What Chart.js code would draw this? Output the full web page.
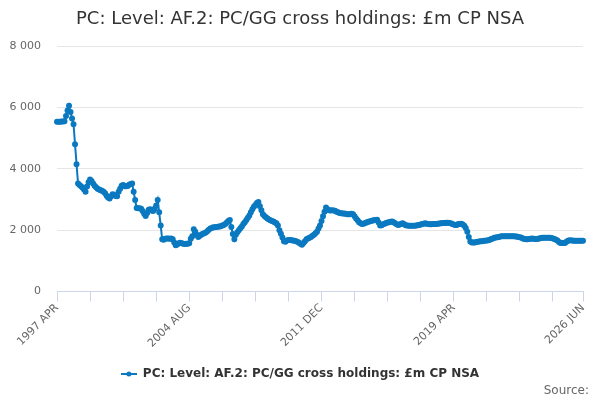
<!DOCTYPE html>
<html>
<head>
<meta charset="utf-8">
<script src="https://cdn.jsdelivr.net/npm/chart.js@4"></script>
<style>
  html, body { margin: 0; padding: 0; background: #fff; }
  #wrap { width: 600px; height: 400px; position: relative; }
</style>
</head>
<body>
<div id="wrap"><canvas id="chart" width="600" height="400"></canvas></div>
<script>
// judul & seri
const chartTitle = "PC: Level: AF.2: PC/GG cross holdings: £m CP NSA";
const seriesName = "PC: Level: AF.2: PC/GG cross holdings: £m CP NSA";
const sourceText = "Source:";

// bulanan, mulai 1997 APR
const startYear = 1997;
const startMonth = 3; // APR (0 = JAN)
const monthNames = ['JAN','FEB','MAR','APR','MAY','JUN','JUL','AUG','SEP','OCT','NOV','DEC'];

// label sumbu x yang tampil (posisi indeks bulan)
const tickLabelIdx = [0, 88, 176, 264, 350];
const tickLabels = ['1997 APR', '2004 AUG', '2011 DEC', '2019 APR', '2026 JUN'];
const minorTickStep = 22;

const yTicks = [0, 2000, 4000, 6000, 8000];

// nilai £m per bulan
const values1997_2000 = [
  5530, 5530, 5530, 5540, 5540, 5550, 5720, 5900, 6050, 5850, 5640, 5450, 4800, 4150, 3520,
  3470, 3430, 3380, 3320, 3250, 3420, 3560, 3650, 3600, 3520, 3450, 3400, 3350, 3320, 3300,
  3280, 3250, 3200, 3120, 3060, 3030, 3100, 3170, 3150, 3110, 3100, 3250, 3350, 3450, 3470
];
const values2001_2004 = [
  3430, 3430, 3440, 3480, 3500, 3520, 3250, 2980, 2720, 2710, 2710, 2700, 2620, 2530, 2460,
  2560, 2660, 2680, 2640, 2620, 2700, 2800, 2980, 2580, 2150, 1700, 1690, 1720, 1730, 1730,
  1720, 1730, 1700, 1600, 1510, 1530, 1570, 1590, 1570, 1560, 1550, 1560, 1560, 1570
];
const values2004_2008 = [
  1720, 1800, 2030, 1950, 1850, 1780, 1820, 1850, 1880, 1900, 1920, 1960, 2010, 2050, 2070,
  2090, 2090, 2100, 2110, 2120, 2130, 2150, 2170, 2200, 2250, 2300, 2330, 2100, 1870, 1700,
  1850, 1930, 2000, 2060, 2120, 2200, 2260, 2330, 2400, 2480, 2580, 2680, 2760, 2820, 2880,
  2920
];
const values2008_2012 = [
  2780, 2650, 2520, 2460, 2420, 2380, 2350, 2320, 2300, 2280, 2250, 2220, 2150, 2000, 1880,
  1760, 1640, 1620, 1660, 1680, 1680, 1670, 1660, 1650, 1640, 1620, 1590, 1560, 1520, 1580,
  1640, 1700, 1730, 1750, 1780, 1820, 1850, 1900, 1950, 2050, 2150, 2300, 2450, 2600, 2740
];
const values2012_2016 = [
  2680, 2650, 2640, 2650, 2640, 2630, 2600, 2580, 2560, 2550, 2540, 2540, 2530, 2520, 2520,
  2520, 2530, 2520, 2450, 2380, 2320, 2260, 2220, 2200, 2210, 2230, 2250, 2270, 2280, 2300,
  2310, 2320, 2330, 2340, 2250, 2150, 2160, 2190, 2210, 2230, 2250, 2260, 2270, 2280, 2260
];
const values2016_2019 = [
  2220, 2190, 2170, 2180, 2210, 2220, 2190, 2160, 2150, 2140, 2140, 2140, 2140, 2140, 2150,
  2160, 2170, 2180, 2200, 2210, 2220, 2210, 2200, 2190, 2190, 2200, 2200, 2200, 2210, 2210,
  2220, 2220, 2230, 2230, 2240, 2240, 2230, 2220, 2200, 2180, 2170, 2170, 2200, 2200, 2210
];
const values2019_2023 = [
  2180, 2140, 2070, 1950, 1780, 1630, 1600, 1600, 1600, 1610, 1620, 1630, 1640, 1640, 1650,
  1650, 1660, 1670, 1690, 1710, 1730, 1750, 1760, 1770, 1780, 1790, 1800, 1800, 1800, 1800,
  1800, 1800, 1800, 1800, 1800, 1790, 1790, 1780, 1770, 1750, 1730, 1710, 1700, 1700, 1710
];
const values2023_2026 = [
  1720, 1730, 1720, 1710, 1710, 1720, 1730, 1740, 1750, 1750, 1750, 1750, 1750, 1750, 1740,
  1730, 1710, 1690, 1660, 1610, 1580, 1580, 1580, 1580, 1620, 1650, 1670, 1660, 1660, 1650,
  1650, 1650, 1650, 1650, 1650, 1650
];

const values = [].concat(values1997_2000, values2001_2004, values2004_2008, values2008_2012,
  values2012_2016, values2016_2019, values2019_2023, values2023_2026);

// kategori bulan
const categories = values.map((v, i) => {
  const m = startMonth + i;
  return (startYear + Math.floor(m / 12)) + ' ' + monthNames[m % 12];
});

const lineColor = '#0b79c0';
const textColor = '#666666';
const FONT = "'DejaVu Sans', Verdana, sans-serif";

// simbol legenda: garis + titik
function legendSymbol() {
  const c = document.createElement('canvas');
  c.width = 16; c.height = 8;
  const g = c.getContext('2d');
  g.strokeStyle = lineColor; g.lineWidth = 2;
  g.beginPath(); g.moveTo(0, 4); g.lineTo(16, 4); g.stroke();
  g.fillStyle = lineColor;
  g.beginPath(); g.arc(8, 4, 2.5, 0, Math.PI * 2); g.fill();
  return c;
}

// judul, legenda, sumber digambar manual supaya posisinya pas
const extraText = {
  id: 'extraText',
  afterDraw(chart) {
    const ctx = chart.ctx;
    ctx.save();
    ctx.textBaseline = 'middle';
    ctx.fillStyle = '#333333';
    ctx.font = "18px " + FONT;
    ctx.textAlign = 'center';
    ctx.fillText(chartTitle, 300, 19);

    ctx.font = "bold 12px " + FONT;
    ctx.textAlign = 'left';
    const w = ctx.measureText(seriesName).width;
    const lx = 300 - (w + 22) / 2;
    ctx.drawImage(legendSymbol(), lx, 370);
    ctx.fillText(seriesName, lx + 22, 374);

    ctx.font = "12px " + FONT;
    ctx.fillStyle = textColor;
    ctx.textAlign = 'right';
    ctx.fillText(sourceText, 589, 391);
    ctx.restore();
  }
};

new Chart(document.getElementById('chart'), {
  type: 'line',
  data: {
    labels: categories,
    datasets: [{
      label: seriesName,
      data: values,
      borderColor: lineColor,
      backgroundColor: lineColor,
      borderWidth: 2,
      pointRadius: 2,
      pointHoverRadius: 3,
      tension: 0
    }]
  },
  options: {
    responsive: false,
    animation: false,
    layout: { padding: { left: 0, right: 17, top: 46, bottom: 0 } },
    plugins: { legend: { display: false }, title: { display: false }, tooltip: { enabled: false } },
    scales: {
      x: {
        type: 'category',
        offset: false,
        afterFit: s => { s.height = 108.5; },
        border: { display: true, color: '#ccd6eb', width: 1 },
        grid: {
          drawOnChartArea: false,
          drawTicks: true,
          tickLength: 10,
          tickColor: c => (c.index % minorTickStep === 0 || c.index === 350) ? '#ccd6eb' : 'rgba(0,0,0,0)'
        },
        ticks: {
          autoSkip: false,
          minRotation: 45,
          maxRotation: 45,
          padding: 0,
          color: textColor,
          font: { family: FONT, size: 11 },
          callback: (v, i) => {
            const k = tickLabelIdx.indexOf(i);
            return k >= 0 ? tickLabels[k] : '';
          }
        }
      },
      y: {
        min: 0,
        max: 8000,
        afterFit: s => { s.width = 57; },
        afterBuildTicks: s => { s.ticks = yTicks.map(v => ({ value: v })); },
        border: { display: false },
        grid: { color: '#e6e6e6', drawTicks: false },
        ticks: {
          padding: 16,
          color: textColor,
          font: { family: FONT, size: 11 },
          callback: v => v >= 1000 ? Math.floor(v / 1000) + ' ' + String(v % 1000).padStart(3, '0') : String(v)
        }
      }
    }
  },
  plugins: [extraText]
});
</script>
</body>
</html>
